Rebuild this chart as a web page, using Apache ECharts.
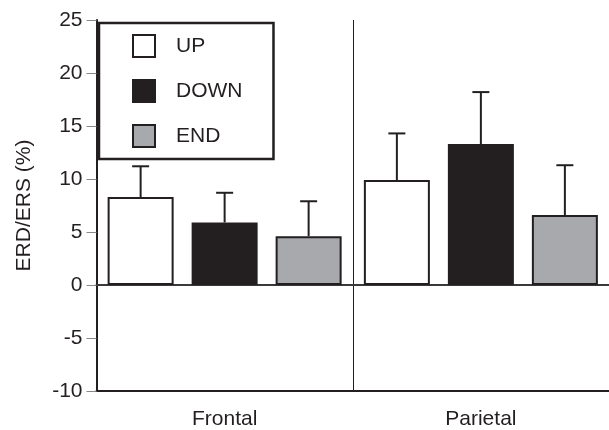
<!DOCTYPE html>
<html>
<head>
<meta charset="utf-8">
<script src="https://cdn.jsdelivr.net/npm/echarts@6/dist/echarts.min.js"></script>
<style>
html,body{margin:0;padding:0;background:#fff;}
#chart{width:609px;height:430px;}
</style>
</head>
<body>
<div id="chart"></div>
<script>
var categories = ['Frontal', 'Parietal'];
var seriesNames = ['UP', 'DOWN', 'END'];
var upValues = [8.3, 9.9];
var downValues = [5.9, 13.3];
var endValues = [4.6, 6.6];
var upErrors = [2.9, 4.4];
var downErrors = [2.8, 4.9];
var endErrors = [3.3, 4.7];
var yTicks = [-10, -5, 0, 5, 10, 15, 20, 25];

var INK = '#231f20';
var FONT = '"Liberation Sans", Arial, sans-serif';
var FS = 21;
var BAR_W = 66, BAR_GAP = 18;
var colors = ['#ffffff', INK, '#a7a9ac'];
var values = [upValues, downValues, endValues];
var errors = [upErrors, downErrors, endErrors];

var chart = echarts.init(document.getElementById('chart'), null, {renderer: 'canvas'});

var series = [];
seriesNames.forEach(function (name, i) {
  var s = {
    name: name,
    type: 'bar',
    data: values[i],
    barWidth: BAR_W,
    barGap: (BAR_GAP / BAR_W * 100) + '%',
    itemStyle: {color: colors[i], borderColor: INK, borderWidth: 2},
    z: 3
  };
  if (i === 0) {
    s.markLine = {
      silent: true,
      symbol: ['none', 'none'],
      label: {show: false},
      lineStyle: {type: 'solid', color: '#444', width: 1.5},
      data: [{yAxis: 0}],
      z: 2
    };
  }
  series.push(s);
});

seriesNames.forEach(function (name, i) {
  var offset = (i - 1) * (BAR_W + BAR_GAP);
  series.push({
    type: 'custom',
    silent: true,
    z: 4,
    data: values[i].map(function (v, k) { return [k, v, v + errors[i][k]]; }),
    renderItem: function (params, api) {
      var base = api.coord([api.value(0), api.value(1)]);
      var top = api.coord([api.value(0), api.value(2)]);
      var x = base[0] + offset;
      var style = {stroke: INK, lineWidth: 2};
      return {
        type: 'group',
        children: [
          {type: 'line', shape: {x1: x, y1: base[1], x2: x, y2: top[1]}, style: style},
          {type: 'line', shape: {x1: x - 8.5, y1: top[1], x2: x + 8.5, y2: top[1]}, style: style}
        ]
      };
    }
  });
});

chart.setOption({
  animation: false,
  backgroundColor: '#fff',
  textStyle: {fontFamily: FONT},
  grid: {left: 96.5, top: 20, bottom: 39, width: 517},
  legend: {
    data: seriesNames,
    orient: 'vertical',
    left: 99, top: 23,
    itemWidth: 22, itemHeight: 22, itemGap: 21,
    icon: 'rect',
    padding: [11, 31, 11, 33],
    borderColor: INK, borderWidth: 2.5,
    backgroundColor: '#fff',
    itemStyle: {borderColor: INK, borderWidth: 2},
    textStyle: {fontFamily: FONT, fontSize: FS, lineHeight: 22, color: INK, padding: [0, 0, 0, 16]}
  },
  xAxis: [{
    type: 'category',
    data: categories,
    position: 'bottom',
    axisLine: {onZero: false, lineStyle: {color: INK, width: 2}},
    axisTick: {show: false},
    axisLabel: {fontFamily: FONT, fontSize: FS, color: INK, margin: 18},
    splitLine: {show: true, interval: 0, lineStyle: {color: INK, width: 1}}
  }, {
    type: 'category',
    data: categories,
    position: 'top',
    axisLine: {lineStyle: {color: INK, width: 2}},
    axisTick: {show: false},
    axisLabel: {show: false}
  }],
  yAxis: {
    type: 'value',
    min: -10, max: 25, interval: 5,
    name: 'ERD/ERS (%)',
    nameLocation: 'middle',
    nameRotate: 90,
    nameGap: 62,
    nameTextStyle: {fontFamily: FONT, fontSize: FS, color: INK},
    axisLine: {show: true, lineStyle: {color: INK, width: 2}},
    axisTick: {show: true, length: 10, lineStyle: {color: '#888', width: 1}},
    axisLabel: {fontFamily: FONT, fontSize: FS, color: INK, margin: 14,
      formatter: function (v) { return yTicks.indexOf(v) >= 0 ? String(v) : ''; }},
    splitLine: {show: false}
  },
  series: series
});
</script>
</body>
</html>
